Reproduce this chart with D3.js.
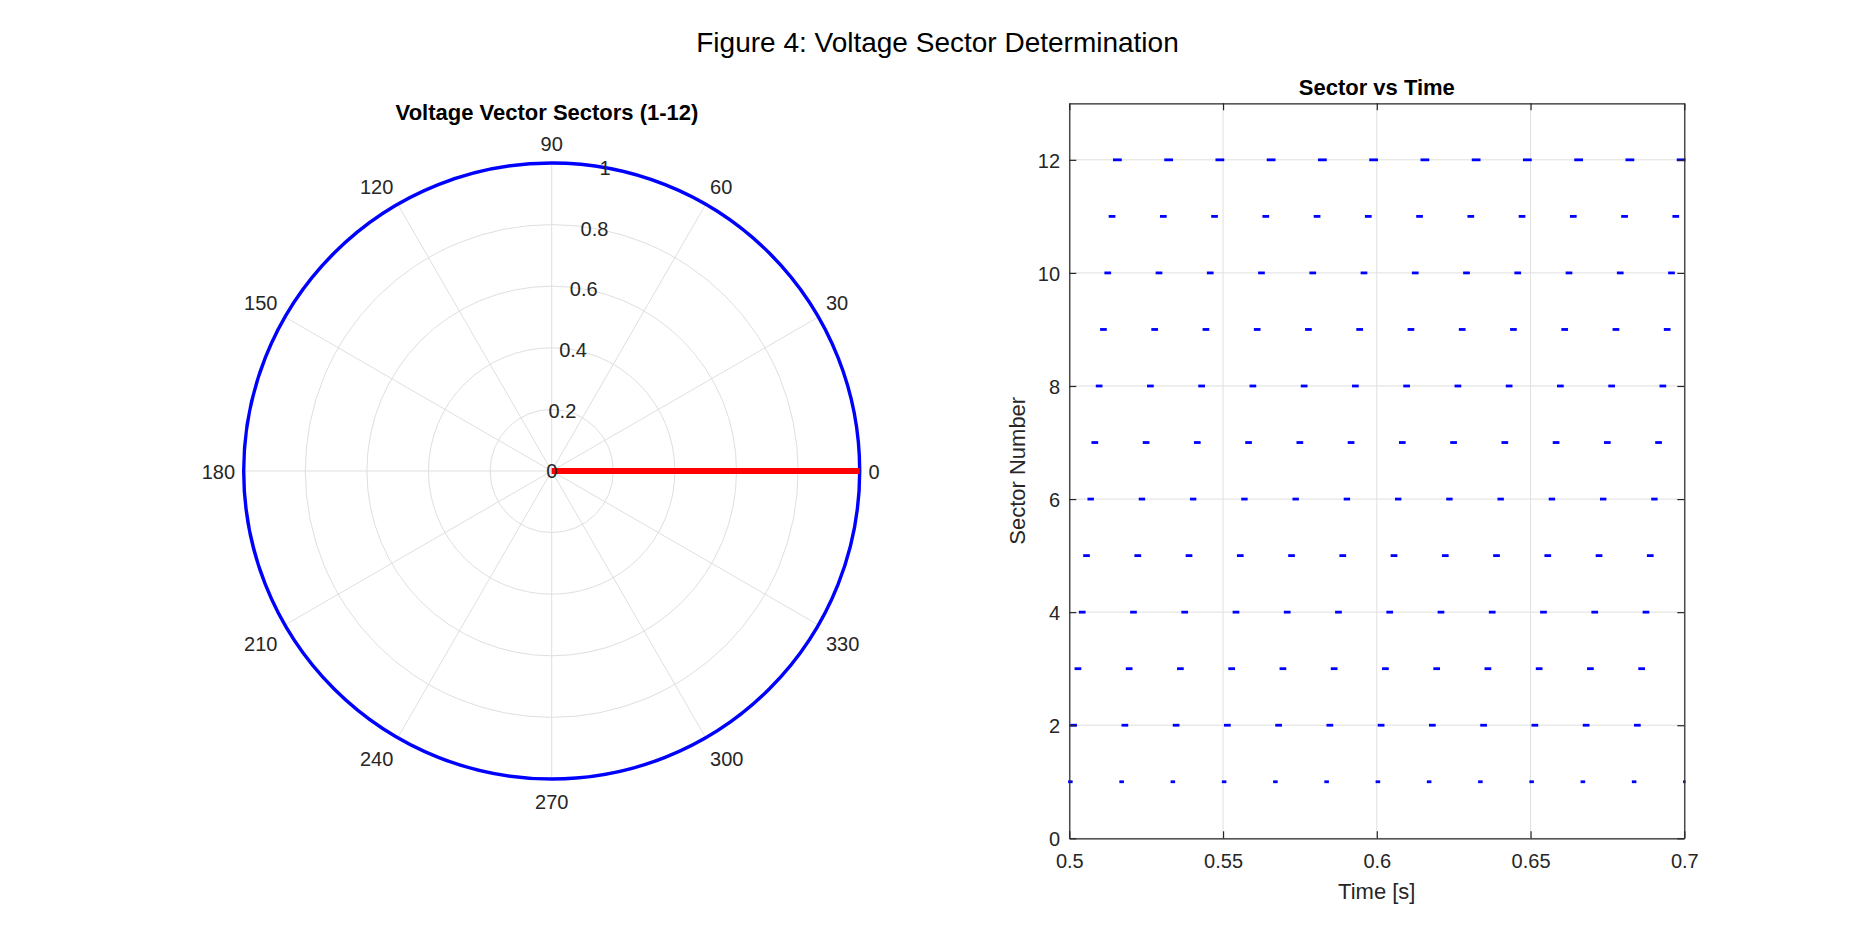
<!DOCTYPE html>
<html>
<head>
<meta charset="utf-8">
<script src="https://cdn.jsdelivr.net/npm/d3@7"></script>
<style>
  body { margin: 0; background: #fff; }
  text { font-family: "Liberation Sans", Arial, Helvetica, sans-serif; }
</style>
</head>
<body>
<div id="chart"></div>
<script>
var width = 1875;
var height = 938;

// polar panel
var thetaTicks = [0, 30, 60, 90, 120, 150, 180, 210, 240, 270, 300, 330];
var rTicks = [0, 0.2, 0.4, 0.6, 0.8, 1];
var circleMag = 1;
var vectorAngle = 0;   // degrees
var vectorMag = 1;

// sector vs time panel
var timeTicks = [0.5, 0.55, 0.6, 0.65, 0.7];
var sectorTicks = [0, 2, 4, 6, 8, 10, 12];
var sectors = [1, 2, 3, 4, 5, 6, 7, 8, 9, 10, 11, 12];
// times (s) where sector 1 begins (60 Hz)
var cycleStart = [0.48333, 0.5, 0.51667, 0.53333, 0.55, 0.56667, 0.58333,
                  0.6, 0.61667, 0.63333, 0.65, 0.66667, 0.68333, 0.7];
// time (ms) after the cycle start where each sector is entered / left
var sectorOnMs  = [0, 0.7, 2.1, 3.5, 4.9, 6.3, 7.6, 9.0, 10.4, 11.8, 13.2, 14.6];
var sectorOffMs = [0.7, 2.1, 3.5, 4.9, 6.3, 7.6, 9.0, 10.4, 11.8, 13.2, 14.6, 16.667];

var textColor = '#262626';
var gridColor = '#dfdfdf';
var tickFont = 20;

var svg = d3.select('#chart')
    .append('svg')
    .attr('width', width)
    .attr('height', height);

svg.append('text')
    .attr('x', 937.5)
    .attr('y', 52.3)
    .attr('text-anchor', 'middle')
    .style('font-size', '28px')
    .attr('fill', '#000')
    .text('Figure 4: Voltage Sector Determination');

// ---------------- polar plot ----------------
var cx = 551.7, cy = 471, R = 308;
var rScale = d3.scaleLinear().domain([0, 1]).range([0, R]);
var pol = svg.append('g').attr('transform', `translate(${cx},${cy})`);

pol.selectAll('.rgrid')
    .data(rTicks.filter((d) => d > 0))
    .enter()
    .append('circle')
    .attr('r', (d) => rScale(d))
    .attr('fill', 'none')
    .attr('stroke', gridColor)
    .attr('stroke-width', 1);

pol.selectAll('.tgrid')
    .data(thetaTicks)
    .enter()
    .append('line')
    .attr('x1', 0).attr('y1', 0)
    .attr('x2', (d) => rScale(1) * Math.cos(d * Math.PI / 180))
    .attr('y2', (d) => -rScale(1) * Math.sin(d * Math.PI / 180))
    .attr('stroke', gridColor)
    .attr('stroke-width', 1);

pol.append('circle')
    .attr('r', rScale(circleMag))
    .attr('fill', 'none')
    .attr('stroke', '#0000ff')
    .attr('stroke-width', 3.4);

var radial = d3.lineRadial()
    .angle((d) => Math.PI / 2 - d[0] * Math.PI / 180)
    .radius((d) => rScale(d[1]));

pol.append('path')
    .attr('d', radial([[vectorAngle, 0], [vectorAngle, vectorMag]]))
    .attr('fill', 'none')
    .attr('stroke', '#ff0000')
    .attr('stroke-width', 5.8)
    .attr('stroke-linecap', 'butt');

// radial tick labels along 80 deg
var rLabelAngle = 80 * Math.PI / 180;
pol.selectAll('.rlab')
    .data(rTicks)
    .enter()
    .append('text')
    .attr('x', (d) => rScale(d) * Math.cos(rLabelAngle))
    .attr('y', (d) => -rScale(d) * Math.sin(rLabelAngle) + 0.358 * tickFont)
    .attr('text-anchor', 'middle')
    .style('font-size', tickFont + 'px')
    .attr('fill', textColor)
    .text((d) => String(d));

// angle tick labels
pol.selectAll('.tlab')
    .data(thetaTicks)
    .enter()
    .append('text')
    .each(function(d) {
        var a = d * Math.PI / 180;
        var c = Math.cos(a), s = Math.sin(a);
        var px = (R + 8.7) * c, py = -(R + 8.7) * s;
        var anchor = c > 0.01 ? 'start' : (c < -0.01 ? 'end' : 'middle');
        var gy = s > 0.01 ? py - 10.2 : (s < -0.01 ? py + 14 : py + 1);
        d3.select(this)
            .attr('x', px)
            .attr('y', gy + 0.358 * tickFont)
            .attr('text-anchor', anchor);
    })
    .style('font-size', tickFont + 'px')
    .attr('fill', textColor)
    .text((d) => String(d));

svg.append('text')
    .attr('x', 547)
    .attr('y', 120)
    .attr('text-anchor', 'middle')
    .style('font-size', '22px')
    .style('font-weight', 'bold')
    .attr('fill', '#000')
    .text('Voltage Vector Sectors (1-12)');

// ---------------- sector vs time ----------------
var axLeft = 1069.3, axRight = 1684.3, axTop = 103.3, axBottom = 838.3;
var x = d3.scaleLinear().domain([0.5, 0.7]).range([axLeft, axRight]);
var y = d3.scaleLinear().domain([0, 13]).range([axBottom, axTop]);

var grid = svg.append('g');
grid.selectAll('.vx')
    .data(timeTicks)
    .enter()
    .append('line')
    .attr('x1', (d) => x(d)).attr('x2', (d) => x(d))
    .attr('y1', axTop).attr('y2', axBottom)
    .attr('stroke', gridColor);
grid.selectAll('.hy')
    .data(sectorTicks)
    .enter()
    .append('line')
    .attr('x1', axLeft).attr('x2', axRight)
    .attr('y1', (d) => y(d)).attr('y2', (d) => y(d))
    .attr('stroke', gridColor);

// one dash per sector visit: the samples inside it, drawn as '.' markers
var dashes = [];
cycleStart.forEach((c) => {
    sectors.forEach((s, i) => {
        var on = c + sectorOnMs[i] / 1000;
        var off = c + sectorOffMs[i] / 1000;
        if (off >= 0.5 - 1e-6 && on <= 0.7 + 1e-6) {
            dashes.push({ sector: s, t0: Math.max(on, 0.5), t1: Math.min(off, 0.7) });
        }
    });
});

var pad = 1.2;
svg.append('g')
    .attr('fill', '#0000ff')
    .selectAll('rect')
    .data(dashes)
    .enter()
    .append('rect')
    .attr('x', (d) => x(d.t0) - pad)
    .attr('y', (d) => y(d.sector) - 1.4)
    .attr('width', (d) => x(d.t1) - x(d.t0) + 2 * pad)
    .attr('height', 2.8);

var fmt = (d) => String(d);
var xAxis = svg.append('g')
    .attr('transform', `translate(0,${axBottom})`)
    .call(d3.axisBottom(x).tickValues(timeTicks).tickFormat(fmt)
        .tickSizeInner(-7).tickSizeOuter(0).tickPadding(15.4));
var yAxis = svg.append('g')
    .attr('transform', `translate(${axLeft},0)`)
    .call(d3.axisLeft(y).tickValues(sectorTicks).tickFormat(fmt)
        .tickSizeInner(-7).tickSizeOuter(0).tickPadding(9.3));
var xTop = svg.append('g')
    .attr('transform', `translate(0,${axTop})`)
    .call(d3.axisTop(x).tickValues(timeTicks).tickFormat('')
        .tickSizeInner(-7).tickSizeOuter(0));
var yRight = svg.append('g')
    .attr('transform', `translate(${axRight},0)`)
    .call(d3.axisRight(y).tickValues(sectorTicks).tickFormat('')
        .tickSizeInner(-7).tickSizeOuter(0));

[xAxis, yAxis, xTop, yRight].forEach((g) => {
    g.selectAll('path.domain').attr('stroke', textColor).attr('stroke-width', 1.2);
    g.selectAll('.tick line').attr('stroke', textColor).attr('stroke-width', 1.2);
    g.selectAll('.tick text')
        .attr('fill', textColor)
        .style('font-size', tickFont + 'px')
        .style('font-family', '"Liberation Sans", Arial, sans-serif');
});
yAxis.selectAll('.tick text').attr('dy', '0.36em');

svg.append('text')
    .attr('x', (axLeft + axRight) / 2)
    .attr('y', 899)
    .attr('text-anchor', 'middle')
    .style('font-size', '22px')
    .attr('fill', textColor)
    .text('Time [s]');

svg.append('text')
    .attr('transform', `translate(1025,${(axTop + axBottom) / 2}) rotate(-90)`)
    .attr('text-anchor', 'middle')
    .style('font-size', '22px')
    .attr('fill', textColor)
    .text('Sector Number');

svg.append('text')
    .attr('x', (axLeft + axRight) / 2)
    .attr('y', 95)
    .attr('text-anchor', 'middle')
    .style('font-size', '22px')
    .style('font-weight', 'bold')
    .attr('fill', '#000')
    .text('Sector vs Time');
</script>
</body>
</html>
